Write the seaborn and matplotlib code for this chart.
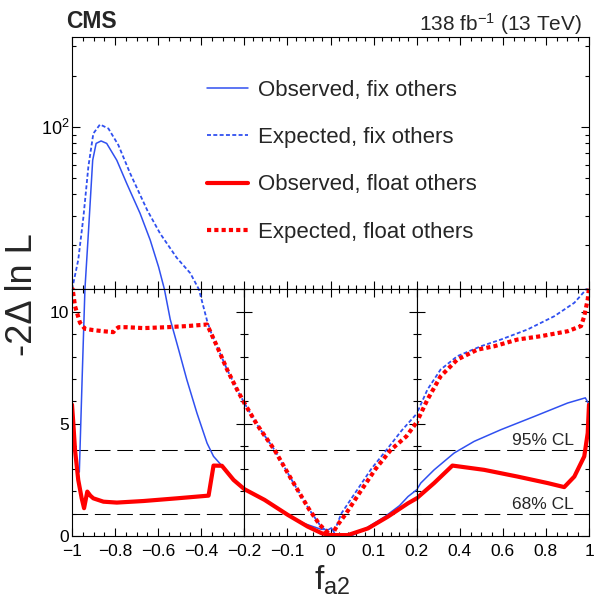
import numpy as np
import matplotlib
matplotlib.use("Agg")
import matplotlib.pyplot as plt
from matplotlib.ticker import FixedLocator, MultipleLocator, NullFormatter
import seaborn as sns

# Observed, fix others
obs_fix_x = [-0.966, -0.953, -0.940, -0.924, -0.904, -0.888, -0.865, -0.839, -0.792, -0.746,
             -0.684, -0.637, -0.598, -0.571, -0.544, -0.505, -0.467, -0.420, -0.373, -0.343,
             -0.304, -0.250, -0.200, -0.153, -0.099, -0.060, -0.022, -0.005, 0.002, 0.010,
             0.025, 0.048, 0.087, 0.126, 0.160, 0.180, 0.200, 0.219, 0.281, 0.374,
             0.467, 0.591, 0.746, 0.901, 0.983, 1.000]
obs_fix_y = [2.85, 7.0, 11.0, 23.6, 63.6, 80.0, 82.7, 80.0, 63.6, 46.4,
             30.9, 21.5, 14.9, 11.0, 9.66, 8.31, 6.97, 5.48, 4.14, 3.55,
             3.13, 2.50, 2.09, 1.61, 0.94, 0.55, 0.30, 0.28, 0.36, 0.10,
             0.0, 0.0, 0.40, 0.86, 1.35, 1.76, 2.06, 2.36, 2.95, 3.70,
             4.22, 4.74, 5.33, 5.93, 6.16, 5.86]

# Expected, fix others
exp_fix_x = [-1.0, -0.994, -0.971, -0.947, -0.924, -0.901, -0.870, -0.831, -0.785, -0.730,
             -0.651, -0.591, -0.514, -0.451, -0.411, -0.373, -0.350, -0.327, -0.280, -0.234,
             -0.200, -0.170, -0.130, -0.090, -0.050, -0.025, 0.002, 0.015, 0.025, 0.060,
             0.095, 0.130, 0.165, 0.200, 0.250, 0.311, 0.389, 0.498, 0.591, 0.715,
             0.839, 0.932, 0.994, 1.0]
exp_fix_y = [11.0, 11.9, 16.4, 29.4, 58.3, 91.5, 103.5, 97.9, 78.3, 53.2,
             32.3, 23.5, 16.9, 13.7, 11.0, 9.6, 8.95, 8.46, 7.42, 6.53,
             5.93, 4.95, 3.84, 2.50, 1.20, 0.50, 0.0, 0.50, 1.0, 2.0,
             3.0, 3.84, 4.70, 5.45, 6.53, 7.42, 8.02, 8.46, 8.76, 9.21,
             9.80, 10.40, 11.07, 11.2]

# Observed, float others
obs_flt_x = [-1.0, -0.994, -0.986, -0.971, -0.955, -0.944, -0.929, -0.915, -0.901, -0.854,
             -0.792, -0.668, -0.513, -0.366, -0.343, -0.304, -0.250, -0.200, -0.153, -0.099,
             -0.053, -0.020, 0.0, 0.040, 0.087, 0.133, 0.180, 0.200, 0.281, 0.366,
             0.513, 0.668, 0.808, 0.885, 0.932, 0.978, 0.994, 1.0]
obs_flt_y = [5.86, 5.04, 3.84, 2.50, 1.68, 1.24, 1.98, 1.80, 1.68, 1.53,
             1.49, 1.56, 1.68, 1.80, 3.14, 3.13, 2.50, 2.09, 1.61, 0.94,
             0.42, 0.12, 0.04, 0.04, 0.34, 0.86, 1.46, 1.68, 2.36, 3.14,
             2.95, 2.65, 2.36, 2.18, 2.65, 3.55, 4.59, 5.86]

# Expected, float others
exp_flt_x = [-1.0, -0.986, -0.963, -0.940, -0.901, -0.854, -0.808, -0.800, -0.784, -0.746,
             -0.668, -0.560, -0.467, -0.373, -0.327, -0.280, -0.234, -0.200, -0.170, -0.130,
             -0.090, -0.050, -0.025, 0.002, 0.015, 0.036, 0.070, 0.105, 0.140, 0.176,
             0.200, 0.250, 0.311, 0.389, 0.482, 0.560, 0.668, 0.777, 0.901, 0.963,
             0.978, 0.994, 1.0]
exp_flt_y = [11.2, 10.25, 9.51, 9.24, 9.18, 9.13, 9.09, 9.2, 9.31, 9.31,
             9.27, 9.31, 9.36, 9.43, 8.46, 7.42, 6.53, 5.93, 4.95, 3.84,
             2.50, 1.20, 0.50, 0.0, 0.45, 1.0, 2.0, 3.0, 3.84, 4.44,
             5.07, 6.08, 7.12, 7.87, 8.31, 8.46, 8.76, 8.91, 9.13, 9.36,
             9.80, 10.55, 11.07]

labels = ["Observed, fix others", "Expected, fix others",
          "Observed, float others", "Expected, float others"]
cl_levels = [1.0, 3.84]
cl_names = ["68% CL", "95% CL"]

BLUE = "#3050f0"
RED = "#ff0000"

sns.set_style("ticks")
plt.rcParams["font.family"] = ["Liberation Sans", "DejaVu Sans"]
plt.rcParams["mathtext.fontset"] = "custom"
plt.rcParams["mathtext.rm"] = "Liberation Sans"
plt.rcParams["mathtext.it"] = "Liberation Sans:italic"
plt.rcParams["mathtext.bf"] = "Liberation Sans:bold"
plt.rcParams["axes.edgecolor"] = "black"
plt.rcParams["axes.linewidth"] = 0.8
plt.rcParams["xtick.color"] = "black"
plt.rcParams["ytick.color"] = "black"


def fwd(x):
    x = np.asarray(x, float)
    return np.where(x < -0.2, (x + 1) / 0.8,
                    np.where(x < 0.2, 1 + (x + 0.2) / 0.4, 2 + (x - 0.2) / 0.8))


def inv(u):
    u = np.asarray(u, float)
    return np.where(u < 1, -1 + 0.8 * u,
                    np.where(u < 2, -0.2 + 0.4 * (u - 1), 0.2 + 0.8 * (u - 2)))


fig = plt.figure(figsize=(5.95, 6.03), dpi=100)
L, R = 72 / 595, 589 / 595
B, M, T = 1 - 536 / 603, 1 - 289.3 / 603, 1 - 37 / 603
pw = (R - L) / 3
up = fig.add_axes([L, M, R - L, T - M])
lows = [fig.add_axes([L + i * pw, B, pw, M - B]) for i in range(3)]

styles = [dict(color=BLUE, lw=1.1),
          dict(color=BLUE, lw=1.3, dashes=(2.2, 1.3)),
          dict(color=RED, lw=3.0),
          dict(color=RED, lw=3.0, dashes=(1.0, 0.75))]
data = [(obs_fix_x, obs_fix_y), (exp_fix_x, exp_fix_y),
        (obs_flt_x, obs_flt_y), (exp_flt_x, exp_flt_y)]

up.set_xscale("function", functions=(fwd, inv))
up.set_yscale("log")
for ax in [up] + lows:
    for (x, y), kw in zip(data, styles):
        sns.lineplot(x=x, y=y, ax=ax, sort=False, estimator=None, legend=False, **kw)

# upper panel
up.set_xlim(-1, 1)
up.set_ylim(11, 340)
major_x = [-1, -0.8, -0.6, -0.4, -0.2, -0.1, 0, 0.1, 0.2, 0.4, 0.6, 0.8, 1]
minor_x = list(np.arange(-1, -0.2, 0.05)) + list(np.arange(-0.2, 0.2, 0.02)) + list(np.arange(0.2, 1.0, 0.05))
up.xaxis.set_major_locator(FixedLocator(major_x))
up.xaxis.set_minor_locator(FixedLocator(minor_x))
up.xaxis.set_major_formatter(NullFormatter())
up.xaxis.set_minor_formatter(NullFormatter())
up.yaxis.set_major_locator(FixedLocator([100]))
up.yaxis.set_minor_locator(FixedLocator([20, 30, 40, 50, 60, 70, 80, 90, 200, 300]))
up.yaxis.set_major_formatter(plt.FixedFormatter([r"$\mathrm{10^{2}}$"]))
up.yaxis.set_minor_formatter(NullFormatter())
up.tick_params(which="both", direction="in", top=True, right=True, width=0.8, labelsize=13, pad=2)
up.tick_params(which="major", length=5.5)
up.tick_params(which="minor", length=2.8)
up.set_xlabel("")
up.set_ylabel("")

# lower panels
ranges = [(-1, -0.2), (-0.2, 0.2), (0.2, 1)]
ticks = [[-1, -0.8, -0.6, -0.4, -0.2], [-0.2, -0.1, 0, 0.1, 0.2], [0.2, 0.4, 0.6, 0.8, 1.0]]
tlabels = [["\u22121", "\u22120.8", "\u22120.6", "\u22120.4", "\u22120.2"],
           ["", "\u22120.1", "0", "0.1", "0.2"],
           ["", "0.4", "0.6", "0.8", "1"]]
minors = [0.05, 0.02, 0.05]
for i, ax in enumerate(lows):
    ax.set_xlim(*ranges[i])
    ax.set_ylim(0, 11)
    ax.set_xticks(ticks[i], tlabels[i])
    ax.xaxis.set_minor_locator(MultipleLocator(minors[i]))
    ax.set_yticks([0, 5, 10])
    ax.yaxis.set_minor_locator(MultipleLocator(1))
    if i > 0:
        ax.set_yticklabels([])
    ax.tick_params(which="both", direction="in", top=True, right=True, width=0.8, labelsize=12.5)
    ax.tick_params(axis="x", which="major", pad=6)
    ax.tick_params(axis="y", which="major", pad=2)
    ax.tick_params(which="major", length=5.5)
    ax.tick_params(which="minor", length=2.8)
    for lv in cl_levels:
        ax.axhline(lv, color="black", lw=0.75, dashes=(15, 6.5), zorder=1)
    ax.set_xlabel("")
    ax.set_ylabel("")

for lv, name in zip(cl_levels, cl_names):
    lows[2].text(0.93, lv + 0.2, name, ha="right", va="baseline", fontsize=12.5)

handles = up.get_lines()[:4]
up.legend(handles, labels, loc="upper left", bbox_to_anchor=(207 / 595, 1 - 80 / 603),
          bbox_transform=fig.transFigure, frameon=False, fontsize=16,
          handlelength=1.85, handletextpad=0.45, labelspacing=1.18,
          borderpad=0, borderaxespad=0)

fig.text(66 / 595, 1 - 28.5 / 603, "CMS", fontsize=16.5, fontweight="bold")
fig.text(582 / 595, 1 - 30.5 / 603, r"138 fb$^{-1}$ (13 TeV)", ha="right", fontsize=15)
fig.text(23 / 595, 0.512, "-2\u0394 ln L", rotation=90, fontsize=26, ha="center", va="center")
fig.text(332 / 595, 1 - 590 / 603, r"$\mathrm{f_{a2}}$", fontsize=24, ha="center", va="baseline")

fig.savefig("out.png", dpi=100)
